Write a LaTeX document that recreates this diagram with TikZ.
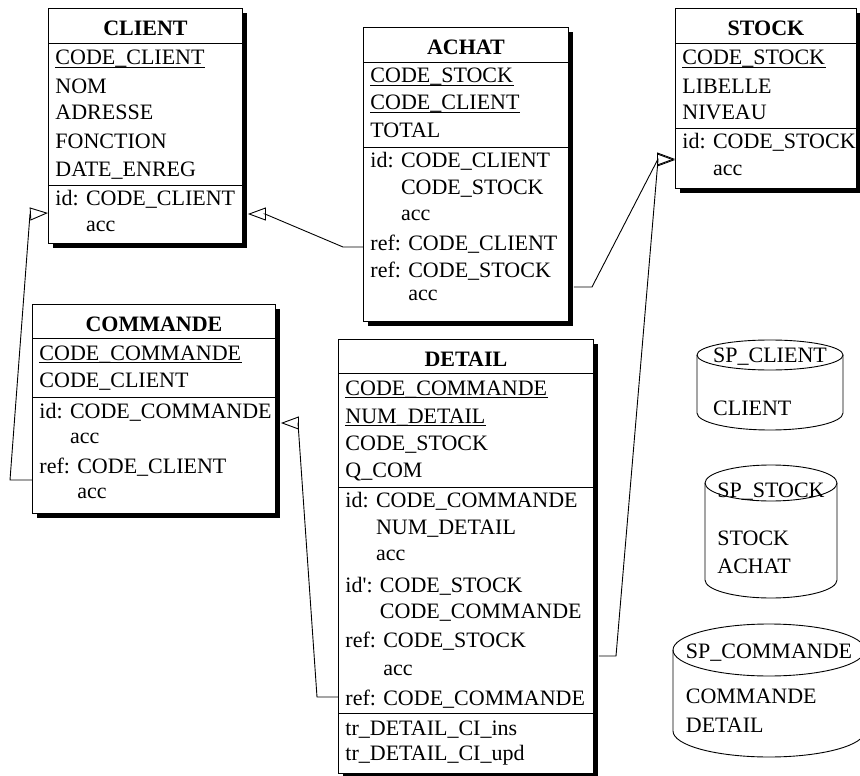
\documentclass[tikz,border=0pt]{standalone}
\usepackage{fontspec}
\setmainfont{Liberation Serif}
\usetikzlibrary{arrows.meta,calc,shadows}

% entity box with a solid black drop shadow
\newcommand\entbox[5]{%
  \node[ent, anchor=north west, minimum width={(#4-#2)*1pt},
        minimum height={(#5-#3)*1pt}] (#1) at (#2,#3) {};}
% horizontal divider across an entity box
\newcommand\divline[2]{\draw (#1.west |- 0,#2) -- (#1.east |- 0,#2);}
% one line of text, placed on its baseline
\newcommand\rowtext[4]{\node[row] (#1) at (#2,#3) {#4};}
% primary-key line: text plus underline
\newcommand\keytext[4]{\rowtext{#1}{#2}{#3}{#4}%
  \draw[ul] ([yshift=-2.5pt]#1.base west) -- ([yshift=-2.5pt]#1.base east);}
% title of an entity box, centred on the box
\newcommand\titletext[3]{\node[ttl] (#1t) at (#1.north |- 0,#2) {#3};}

\begin{document}
\begin{tikzpicture}[x=1pt, y=-1pt, line width=0.9pt,
  every node/.style={inner sep=0pt, font=\fontsize{22}{26}\selectfont},
  ent/.style={draw, fill=white,
    drop shadow={shadow xshift=5pt, shadow yshift=-5pt, fill=black, opacity=1}},
  row/.style={anchor=base west},
  ttl/.style={anchor=base, font=\fontsize{22}{26}\selectfont\bfseries},
  ul/.style={line width=1.2pt},
  fk/.style={-{Triangle[open, length=18pt, width=13pt]}, line width=0.9pt},
]
\useasboundingbox (0,0) rectangle (860,776);

% ---------------- CLIENT
\entbox{client}{48}{8}{242}{243}
\titletext{client}{36}{CLIENT}
\divline{client}{43}
\keytext{cl1}{55}{65}{CODE\_CLIENT}
\rowtext{cl2}{55}{93}{NOM}
\rowtext{cl3}{55}{120}{ADRESSE}
\rowtext{cl4}{55}{148}{FONCTION}
\rowtext{cl5}{55}{176}{DATE\_ENREG}
\divline{client}{185}
\rowtext{cl6}{55}{205}{id: CODE\_CLIENT}
\rowtext{cl7}{55}{231}{\phantom{id: }acc}

% ---------------- ACHAT
\entbox{achat}{363}{27}{568}{321}
\titletext{achat}{55}{ACHAT}
\divline{achat}{62}
\keytext{ac1}{370}{83}{CODE\_STOCK}
\keytext{ac2}{370}{110}{CODE\_CLIENT}
\rowtext{ac3}{370}{137}{TOTAL}
\divline{achat}{147}
\rowtext{ac4}{370}{167}{id: CODE\_CLIENT}
\rowtext{ac5}{370}{194}{\phantom{id: }CODE\_STOCK}
\rowtext{ac6}{370}{220}{\phantom{id: }acc}
\rowtext{ac7}{370}{250}{ref: CODE\_CLIENT}
\rowtext{ac8}{370}{277}{ref: CODE\_STOCK}
\rowtext{ac9}{370}{300}{\phantom{ref: }acc}

% ---------------- STOCK
\entbox{stock}{675}{8}{856}{188}
\titletext{stock}{36}{STOCK}
\divline{stock}{43}
\keytext{st1}{682}{65}{CODE\_STOCK}
\rowtext{st2}{682}{93}{LIBELLE}
\rowtext{st3}{682}{120}{NIVEAU}
\divline{stock}{128}
\rowtext{st4}{682}{148}{id: CODE\_STOCK}
\rowtext{st5}{682}{175}{\phantom{id: }acc}

% ---------------- COMMANDE
\entbox{commande}{32}{304}{275}{513}
\titletext{commande}{331}{COMMANDE}
\divline{commande}{338}
\keytext{co1}{39}{360}{CODE\_COMMANDE}
\rowtext{co2}{39}{387}{CODE\_CLIENT}
\divline{commande}{397}
\rowtext{co3}{39}{418}{id: CODE\_COMMANDE}
\rowtext{co4}{39}{443}{\phantom{id: }acc}
\rowtext{co5}{39}{473}{ref: CODE\_CLIENT}
\rowtext{co6}{39}{498}{\phantom{ref: }acc}

% ---------------- DETAIL
\entbox{detail}{338}{339}{593}{773}
\titletext{detail}{366}{DETAIL}
\divline{detail}{373}
\keytext{de1}{345}{395}{CODE\_COMMANDE}
\keytext{de2}{345}{423}{NUM\_DETAIL}
\rowtext{de3}{345}{450}{CODE\_STOCK}
\rowtext{de4}{345}{477}{Q\_COM}
\divline{detail}{487}
\rowtext{de5}{345}{507}{id: CODE\_COMMANDE}
\rowtext{de6}{345}{534}{\phantom{id: }NUM\_DETAIL}
\rowtext{de7}{345}{560}{\phantom{id: }acc}
\rowtext{de8}{345}{592}{id\textquotesingle: CODE\_STOCK}
\rowtext{de9}{345}{618}{\phantom{id\textquotesingle: }CODE\_COMMANDE}
\rowtext{de10}{345}{647}{ref: CODE\_STOCK}
\rowtext{de11}{345}{675}{\phantom{ref: }acc}
\rowtext{de12}{345}{705}{ref: CODE\_COMMANDE}
\divline{detail}{713}
\rowtext{de13}{345}{735}{tr\_DETAIL\_CI\_ins}
\rowtext{de14}{345}{760}{tr\_DETAIL\_CI\_upd}

% ---------------- foreign-key connectors
\draw[fk] (commande.west |- 0,480) -- (10,480) -- (30,214) -- (client.west |- 0,213);
\draw[fk] (achat.west |- 0,247) -- (343,247) -- (265,214) -- ($(client.east |- 0,214)+(5,0)$);
\draw[fk] ($(achat.east |- 0,287)+(5,0)$) -- (592,287) -- (658,159) -- (stock.west |- 0,159);
\draw[fk] ($(detail.east |- 0,656)+(5,0)$) -- (616,656) -- (658,160) -- (stock.west |- 0,160);
\draw[fk] (detail.west |- 0,697) -- (317,697) -- (298,423) -- ($(commande.east |- 0,423)+(5,0)$);

% ---------------- storage spaces (cylinders)
\draw (697,355) -- (697,413) arc[start angle=180, end angle=0, x radius=73, y radius=17] -- (843,355);
\draw (770,355) ellipse [x radius=73, y radius=15];
\node[anchor=base] (spc) at (770,362) {SP\_CLIENT};
\node[row] (spc1) at (spc.base west |- 0,415) {CLIENT};

\draw (705,483) -- (705,580) arc[start angle=180, end angle=0, x radius=66, y radius=18] -- (837,483);
\draw (771,483) ellipse [x radius=66, y radius=18];
\node[anchor=base] (sps) at (771,497) {SP\_STOCK};
\node[row] (sps1) at (sps.base west |- 0,545) {STOCK};
\node[row] (sps2) at (sps.base west |- 0,573) {ACHAT};

\draw (673,650) -- (673,731) arc[start angle=180, end angle=0, x radius=96, y radius=26] -- (865,650);
\draw (769,650) ellipse [x radius=96, y radius=26];
\node[anchor=base] (spm) at (769,658) {SP\_COMMANDE};
\node[row] (spm1) at (spm.base west |- 0,703) {COMMANDE};
\node[row] (spm2) at (spm.base west |- 0,732) {DETAIL};
\end{tikzpicture}
\end{document}
